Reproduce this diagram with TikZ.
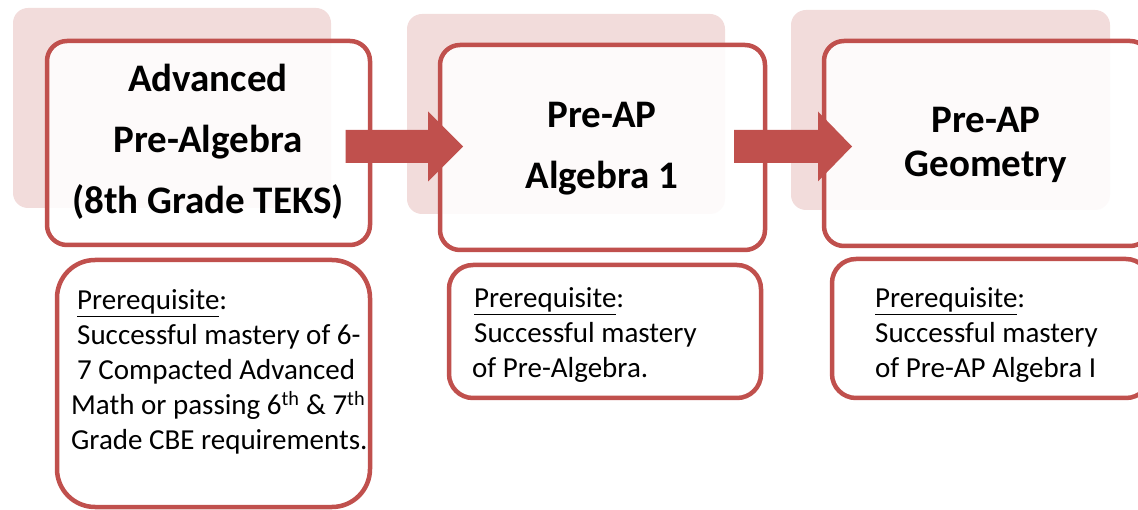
\documentclass[tikz,border=0pt]{standalone}
\usepackage{fontspec}
\setmainfont{Carlito}
\usetikzlibrary{calc}
\definecolor{accred}{HTML}{C0504D}
\definecolor{shade}{HTML}{F2DCDB}
\begin{document}
\begin{tikzpicture}[x=1pt,y=-1pt,
  shadowbox/.style={fill=shade, draw=none, rounded corners=15pt, inner sep=0pt, outer sep=0pt},
  mainbox/.style={draw=accred, line width=4.5pt, fill=white, fill opacity=0.88, draw opacity=1, rounded corners=20pt, inner sep=0pt, outer sep=0pt},
  prebox/.style={draw=accred, line width=4.5pt, fill=white, rounded corners=24pt, inner sep=0pt, outer sep=0pt},
  titletext/.style={anchor=base, inner sep=0pt, font=\bfseries\fontsize{39}{61}\selectfont},
  pretext/.style={anchor=base west, inner sep=0pt, font=\fontsize{29}{35}\selectfont},
  arrowc/.style={fill=accred, draw=none}]
\useasboundingbox (0,0) rectangle (1138,510);

% background shades
\node[shadowbox, minimum width=318pt, minimum height=200pt] (s1) at (172,108) {};
\node[shadowbox, minimum width=318pt, minimum height=200pt] (s2) at (566,114) {};
\node[shadowbox, minimum width=319pt, minimum height=200pt] (s3) at (950.5,110) {};

% main boxes
\node[mainbox, minimum width=323pt, minimum height=204pt] (b1) at (208.5,143) {};
\node[mainbox, minimum width=325pt, minimum height=205pt] (b2) at (602.5,147.5) {};
\node[mainbox, minimum width=326pt, minimum height=205pt] (b3) at (987,143.5) {};

% prerequisite boxes
\node[prebox, rounded corners=38pt, minimum width=313pt, minimum height=247pt] (p1) at (213.5,383.5) {};
\node[prebox, minimum width=312pt, minimum height=133pt] (p2) at (605,331.5) {};
\node[prebox, minimum width=318pt, minimum height=139pt] (p3) at (991,328.5) {};

% titles
\node[titletext] (t1) at (208,92) {\parbox[t]{320pt}{\centering Advanced\\Pre-Algebra\\(8th Grade TEKS)}};
\node[titletext] (t2) at (602,128) {\parbox[t]{320pt}{\centering Pre-AP\\Algebra 1}};
\node[titletext, font=\bfseries\fontsize{39}{44}\selectfont] (t3) at (986,133) {\parbox[t]{320pt}{\centering Pre-AP\\Geometry}};

% prerequisite texts
\node[pretext] (l1) at (71,310) {\parbox[t]{320pt}{\raggedright
\hspace*{6pt}\underline{Prerequisite}:\\
\hspace*{6pt}Successful mastery of 6-\\
\hspace*{6pt}7 Compacted Advanced\\
Math or passing 6\textsuperscript{th} \& 7\textsuperscript{th}\\
Grade CBE requirements.}};
\node[pretext] (l2) at (474,308) {\parbox[t]{300pt}{\raggedright
\underline{Prerequisite}:\\
Successful mastery\\
\hspace*{-2pt}of Pre-Algebra.}};
\node[pretext] (l3) at (875,308) {\parbox[t]{300pt}{\raggedright
\underline{Prerequisite}:\\
Successful mastery\\
of Pre-AP Algebra I}};

% arrows
\coordinate (a1s) at ($(b1.east)+(-24.5,3.5)$);
\coordinate (a1t) at ($(b2.west)+(23,-1)$);
\coordinate (a2s) at ($(b2.east)+(-31,-1)$);
\coordinate (a2t) at ($(b3.west)+(28,3)$);
\fill[arrowc] let \p1=(a1s), \p2=(a1t) in
  (\x1,\y1+16.5pt) -- (\x2-35pt,\y1+16.5pt) -- (\x2-35pt,\y1+35pt) -- (\x2,\y1)
  -- (\x2-35pt,\y1-35pt) -- (\x2-35pt,\y1-16.5pt) -- (\x1,\y1-16.5pt) -- cycle;
\fill[arrowc] let \p1=(a2s), \p2=(a2t) in
  (\x1,\y1+16.5pt) -- (\x2-34pt,\y1+16.5pt) -- (\x2-34pt,\y1+35pt) -- (\x2,\y1)
  -- (\x2-34pt,\y1-35pt) -- (\x2-34pt,\y1-16.5pt) -- (\x1,\y1-16.5pt) -- cycle;
\end{tikzpicture}
\end{document}
